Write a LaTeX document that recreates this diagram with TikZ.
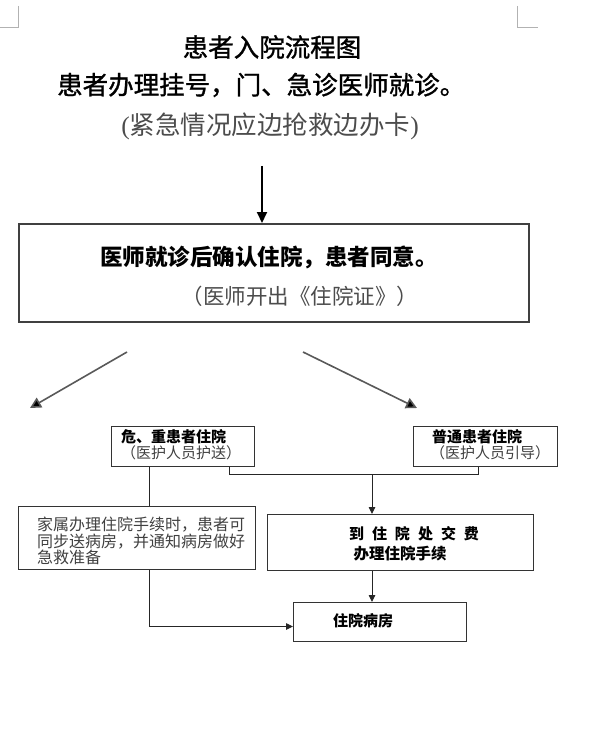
\documentclass[tikz,border=0pt]{standalone}
\usepackage{fontspec}
\setmainfont{Liberation Serif}
\newfontfamily\zhfont{Noto Sans CJK SC}
\newfontfamily\zhsemi{Noto Sans CJK SC}[FakeBold=1.2]
\usetikzlibrary{arrows.meta}
\tikzset{
  box/.style={draw=black!80, line width=1pt, inner sep=0pt, anchor=north west},
  mainbox/.style={draw=black!75, line width=1.6pt, inner sep=0pt, anchor=north west},
  link/.style={draw=black!85, line width=0.9pt},
  conn/.style={link, -{Triangle[length=7pt,width=6.5pt]}},
  bigarrow/.style={draw=black, line width=2pt, -{Triangle[length=11pt,width=10pt]}},
  diag/.style={draw=black!65, line width=1.6pt, -{Triangle[length=11pt,width=11pt,fill=black]}},
  cornermark/.style={draw=black!30, line width=0.8pt},
  txt/.style={inner sep=0pt, font=\zhfont},
  big/.style={txt, font=\zhfont\fontsize{25.5}{30}\selectfont},
  bigsemi/.style={txt, font=\zhsemi\fontsize{25.5}{30}\selectfont},
  small/.style={txt, font=\zhfont\fontsize{15}{15}\selectfont},
  smallb/.style={txt, font=\zhfont\bfseries\fontsize{15}{15}\selectfont},
}
\begin{document}
\begin{tikzpicture}[x=1pt,y=-1pt]
\useasboundingbox (0,0) rectangle (598,754);
% corner marks
\draw[cornermark] (18,6) -- (18,27) -- (0,27);
\draw[cornermark] (517,6) -- (517,27) -- (538,27);
% header texts
\node[bigsemi] (t1) at (272,47) {患者入院流程图};
\node[bigsemi, anchor=west] (t2) at (57,85) {患者办理挂号，门、急诊医师就诊。};
\node[big, text=black!70] (t3) at (270,126) {{\rmfamily(}紧急情况应边抢救边办卡{\rmfamily)}};
% boxes
\node[mainbox, minimum width=510pt, minimum height=98pt] (main) at (18,223) {};
\node[box, minimum width=143pt, minimum height=40pt] (crit) at (111,426) {};
\node[box, minimum width=144pt, minimum height=40pt] (norm) at (413,426) {};
\node[box, minimum width=237pt, minimum height=63pt] (family) at (18,506) {};
\node[box, minimum width=266pt, minimum height=56pt] (pay) at (267,514) {};
\node[box, minimum width=173pt, minimum height=39pt] (ward) at (293,602) {};
% box texts
\node[txt, font=\zhfont\bfseries\fontsize{22.5}{26}\selectfont] (m1) at (269,257) {医师就诊后确认住院，患者同意。};
\node[txt, font=\zhfont\fontsize{21.5}{26}\selectfont, text=black!70] (m2) at (300,296) {（医师开出《住院证》）};
\node[smallb, anchor=west] (c1) at (121,437) {危、重患者住院};
\node[small, anchor=west, text=black!75] (c2) at (121,453) {（医护人员护送）};
\node[smallb, anchor=west] (n1) at (432,437) {普通患者住院};
\node[small, anchor=west, text=black!75] (n2) at (430,453) {（医护人员引导）};
\node[txt, anchor=west, align=left, text=black!75, font=\zhfont\fontsize{16}{15}\selectfont] (f1) at (37,541) {家属办理住院手续时，患者可\\同步送病房，并通知病房做好\\急救准备};
\node[smallb] (p1) at (414,534) {到\hspace{8pt}住\hspace{8pt}院\hspace{8pt}处\hspace{8pt}交\hspace{8pt}费};
\node[smallb, font=\zhfont\bfseries\fontsize{15.5}{15}\selectfont] (p2) at (400,554) {办理住院手续};
\node[smallb, anchor=west] (w1) at (333,621) {住院病房};
% connectors
\coordinate (top) at (262,166);
\draw[bigarrow] (top) -- (top |- main.north);
\coordinate (dl1) at (127,352);
\coordinate (dl2) at (30,408);
\coordinate (dr1) at (303,352);
\coordinate (dr2) at (417,408);
\draw[diag] (dl1) -- (dl2);
\draw[diag] (dr1) -- (dr2);
\coordinate (merge) at (372,474);
\draw[link] (crit.south east) ++(-26,0) |- (merge);
\draw[link] (norm.south west) ++(65,0) |- (merge);
\draw[conn] (merge) -- (merge |- pay.north);
\draw[link] (crit.south west) ++(38,0) coordinate (cl) -- (cl |- family.north);
\draw[conn] (merge |- pay.south) -- (merge |- ward.north);
\draw[conn] (family.south west) ++(131,0) coordinate (fl) |- ([yshift=-4.5pt]ward.west);
\end{tikzpicture}
\end{document}
